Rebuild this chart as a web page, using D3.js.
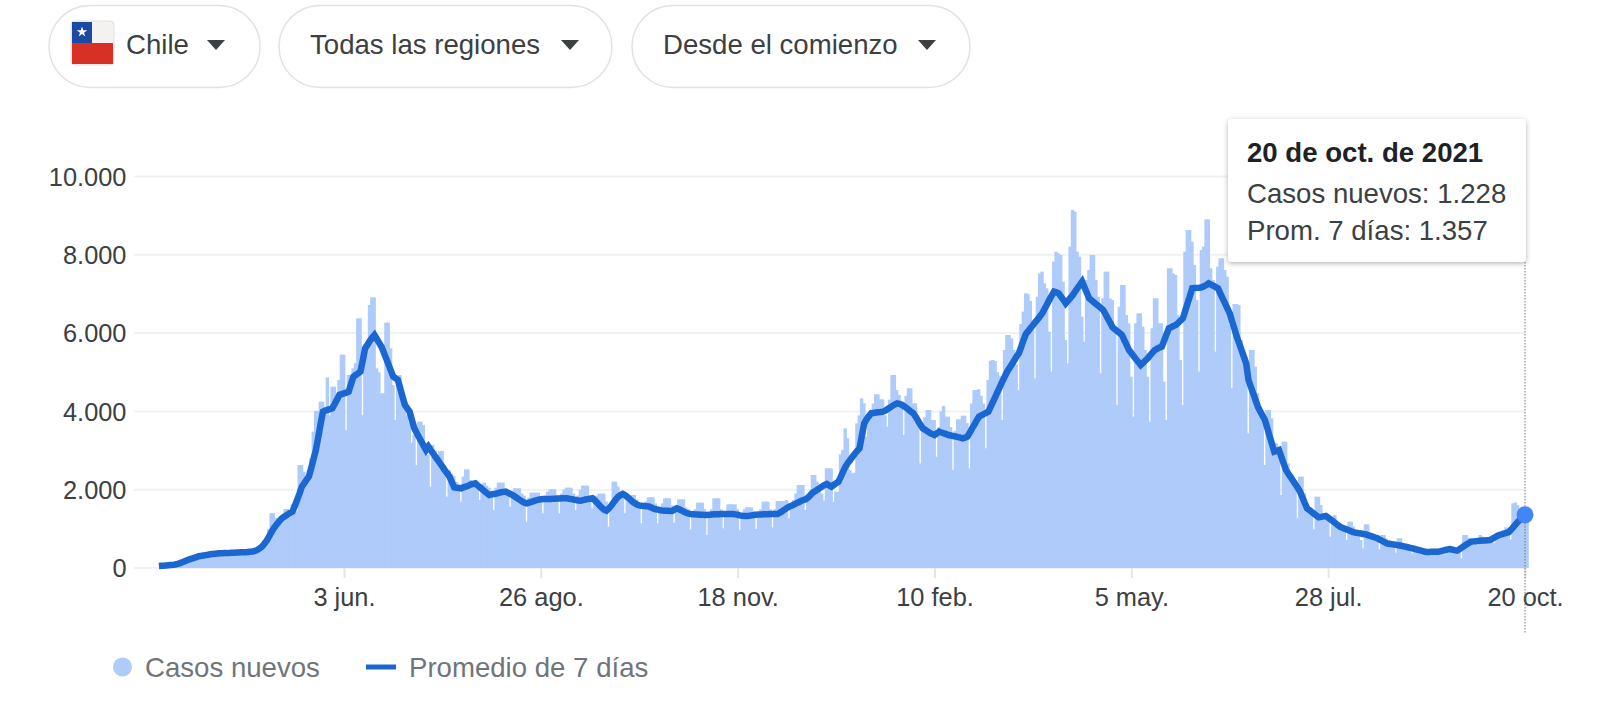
<!DOCTYPE html>
<html lang="es">
<head>
<meta charset="utf-8">
<script src="https://cdn.jsdelivr.net/npm/d3@7/dist/d3.min.js"></script>
<style>
html,body{margin:0;padding:0;background:#fff;overflow:hidden}
svg{display:block}
text{font-family:"Liberation Sans",Arial,sans-serif}
</style>
</head>
<body>
<svg id="chart" width="1600" height="705"></svg>
<script>
const startDay = "2020-03-16";
const yTicks = [0, 2000, 4000, 6000, 8000, 10000];
const yTickLabels = ["0", "2.000", "4.000", "6.000", "8.000", "10.000"];
const xTickDates = ["2020-06-03", "2020-08-26", "2020-11-18", "2021-02-10", "2021-05-05", "2021-07-28", "2021-10-20"];
const xTickLabels = ["3 jun.", "26 ago.", "18 nov.", "10 feb.", "5 may.", "28 jul.", "20 oct."];
const filters = ["Chile", "Todas las regiones", "Desde el comienzo"];
const legendLabels = ["Casos nuevos", "Promedio de 7 días"];
const tooltipLines = ["20 de oct. de 2021", "Casos nuevos: 1.228", "Prom. 7 días: 1.357"];

const newCases = [
40,60,
60,70,70,80,90,100,100,
90,110,130,150,180,200,220,
230,270,300,320,340,350,360,
330,400,440,460,430,390,380,
350,420,450,460,440,420,400,
380,430,460,450,470,480,500,
560,800,1000,1400,1400,1280,1200,
1183,1354,1507,1507,1439,1626,1430,
1450,2631,2631,2461,2205,2461,2800,
3482,4010,4010,4249,4249,4078,4870,
3900,4632,4632,4419,4802,5450,5450,
3525,4930,4930,5100,5228,6377,6377,
3908,5713,5713,6718,6913,6913,5100,
4998,4461,4461,6267,6267,5611,4674,
3780,4760,4930,4376,4100,3900,3700,
3200,3397,2631,3738,3738,3650,3200,
2900,2077,3140,3000,2900,2990,2990,
2631,1822,2500,2400,2350,2200,2150,
1694,2333,2520,2520,2248,2200,2205,
2200,1737,2150,2180,2100,2050,1950,
1481,2050,2180,2180,2180,2000,1950,
1567,1950,2035,2035,2035,1900,1850,
1184,1800,1924,1924,1924,1924,1800,
1396,1850,1950,2009,2009,2009,1850,
1396,1900,2000,2052,2052,2052,1900,
1481,1850,2000,2103,2103,2103,1850,
1524,1800,1850,1900,1900,1900,1700,
1056,1500,2205,2205,2077,1950,1900,
1400,1750,1865,1865,1865,1750,1650,
1141,1500,1700,1805,1805,1805,1650,
1141,1500,1650,1780,1780,1780,1600,
1158,1500,1754,1754,1754,1550,1500,
988,1400,1500,1669,1669,1669,1500,
843,1350,1500,1780,1780,1780,1500,
1013,1400,1626,1626,1626,1626,1500,
970,1400,1500,1550,1550,1550,1450,
996,1350,1500,1694,1694,1694,1500,
1039,1500,1711,1711,1711,1711,1737,
1269,1600,1737,1900,2120,2120,2120,
1481,1800,1950,2375,2375,2205,1950,
1900,1720,2546,2546,2546,1694,1950,
1950,2900,3014,3567,3312,2500,2418,
2435,3695,3900,4334,4206,3355,3800,
4036,4200,4436,4436,4308,4308,3900,
3610,4300,4930,4930,4546,4419,4200,
3397,4400,4589,4589,4206,4206,3900,
2673,3700,3850,4036,4036,3780,3780,
2844,3600,4000,4138,3865,3865,3600,
2503,3500,3797,3797,3891,3891,3700,
2546,4200,4546,4546,4564,4400,4200,
3057,4800,5296,5313,5287,5000,4900,
3780,5568,5951,5951,5866,5568,5200,
4546,6232,6548,7016,7000,6820,6200,
4845,6930,7527,7570,7270,7143,6037,
5015,7825,8080,8037,7995,7314,5824,
5228,8207,9144,9100,8080,7952,6420,
5781,7356,7612,7995,7995,7356,6930,
4972,6888,7570,7570,6888,6845,6164,
4163,6675,7228,7228,6462,6250,4887,
3865,6250,6505,6505,6164,5568,4887,
3738,6122,6888,6888,6250,6250,4760,
3780,7654,7654,7527,7484,6462,5313,
4163,8080,8633,8633,8335,7740,6845,
5015,8122,8207,8906,8906,7654,7356,
5525,7697,7910,7910,7612,7441,6207,
4589,6743,6743,6718,5824,5568,5398,
3440,5568,5568,5143,4461,4036,3951,
2631,4036,4036,3823,3184,3184,2929,
1865,3227,3227,2673,2418,2333,2077,
1269,2333,2333,1907,1652,1481,1396,
988,1822,1822,1609,1396,1311,1226,
800,1311,1354,1183,1056,1000,950,
715,1183,1183,1056,885,843,715,
502,1115,1115,885,843,758,720,
477,843,843,750,700,650,590,
392,758,758,640,600,560,520,
375,510,520,500,480,460,440,
332,400,430,430,420,410,400,
350,480,490,480,470,440,400,
247,843,843,770,720,700,680,
580,843,800,780,760,750,720,
640,820,850,900,970,1039,1000,
732,1652,1670,1610,1500,1400,1330,1228
];

const average7 = [
50,55,60,65,70,75,80,90,105,125,
150,175,200,220,240,260,275,300,310,320,
330,340,350,360,365,370,375,375,380,380,
385,390,390,395,395,400,400,405,410,415,
420,435,460,500,545,620,700,800,910,1013,
1090,1170,1240,1294,1330,1370,1410,1440,1580,1740,
1900,2077,2160,2250,2333,2550,2780,3014,3340,3670,
3993,4020,4040,4060,4078,4190,4300,4419,4440,4460,
4480,4504,4700,4887,4930,4970,5015,5300,5611,5700,
5800,5880,5951,5850,5750,5653,5500,5350,5200,5040,
4887,4850,4802,4590,4370,4163,4080,3993,3780,3567,
3450,3340,3230,3120,3014,3100,3010,2930,2840,2760,
2673,2590,2500,2420,2333,2200,2060,2050,2040,2035,
2060,2080,2100,2130,2150,2163,2110,2060,2010,1960,
1910,1865,1880,1890,1900,1920,1935,1945,1950,1920,
1890,1860,1820,1780,1740,1700,1670,1652,1670,1690,
1710,1730,1745,1754,1760,1760,1765,1765,1770,1770,
1775,1775,1780,1780,1780,1770,1760,1750,1735,1725,
1720,1735,1750,1760,1770,1780,1730,1670,1600,1540,
1490,1465,1520,1590,1670,1750,1820,1860,1890,1860,
1810,1760,1700,1660,1620,1600,1590,1585,1580,1570,
1550,1520,1500,1490,1475,1465,1460,1460,1458,1456,
1490,1524,1500,1470,1440,1410,1390,1380,1375,1370,
1365,1360,1358,1355,1354,1360,1365,1370,1372,1375,
1378,1380,1380,1382,1381,1380,1370,1360,1345,1335,
1330,1328,1335,1345,1355,1360,1365,1368,1371,1372,
1375,1378,1380,1380,1380,1410,1450,1490,1530,1567,
1590,1620,1650,1680,1710,1735,1754,1800,1860,1924,
1960,2000,2040,2080,2120,2146,2110,2077,2120,2165,
2205,2330,2460,2588,2680,2760,2840,2920,2990,3057,
3380,3695,3800,3880,3951,3960,3970,3980,3985,3993,
4020,4060,4100,4140,4175,4206,4195,4170,4130,4090,
4040,3990,3951,3860,3760,3660,3567,3530,3490,3450,
3420,3397,3440,3482,3460,3440,3420,3397,3385,3370,
3360,3345,3330,3312,3330,3355,3450,3560,3660,3770,
3865,3900,3930,3960,3993,4120,4250,4380,4510,4640,
4770,4890,5015,5110,5200,5300,5400,5483,5650,5820,
5977,6050,6130,6200,6280,6350,6430,6505,6620,6730,
6850,6960,7058,7040,7016,6930,6850,6760,6830,6900,
6973,7060,7150,7230,7314,7170,7030,6888,6840,6790,
6740,6690,6640,6590,6480,6370,6260,6147,6100,6050,
6000,5951,5820,5700,5568,5490,5410,5330,5260,5185,
5240,5300,5356,5430,5500,5568,5600,5630,5653,5810,
5970,6122,6150,6180,6207,6260,6320,6377,6570,6760,
6950,7143,7150,7155,7160,7169,7195,7230,7271,7240,
7210,7175,7143,7010,6880,6760,6630,6505,6300,6110,
5909,5740,5570,5400,5228,4802,4630,4460,4290,4121,
4000,3890,3780,3580,3370,3170,2971,2990,3014,2840,
2670,2503,2410,2320,2230,2140,2050,1950,1810,1660,
1524,1480,1430,1385,1340,1294,1305,1318,1328,1285,
1240,1195,1150,1100,1056,1030,1005,985,960,935,
911,900,890,880,870,860,840,820,800,780,
758,725,695,660,630,620,610,600,590,580,
570,555,545,530,515,500,485,470,455,440,
420,409,411,413,415,416,417,430,445,460,
475,485,470,455,443,480,520,560,600,640,
673,680,685,690,695,700,705,710,715,745,
780,815,843,860,875,895,911,975,1045,1115,
1183,1240,1300,1357
];

const parse = d3.utcParse("%Y-%m-%d");
const first = parse(startDay);
const dayOf = i => d3.utcDay.offset(first, i);
const svg = d3.select("#chart");

const x = d3.scaleUtc().domain([parse(xTickDates[0]), parse(xTickDates[6])]).range([344, 1525]);
const y = d3.scaleLinear().domain([0, 10000]).range([568, 176.5]);
const barW = x(dayOf(1)) - x(dayOf(0));

// filter pills
const pills = [[49, 211], [279, 333], [632, 338]];
const pillText = [126, 310, 663];
const pillArrow = [216, 570, 927];
const pillG = svg.append("g");
filters.forEach((label, i) => {
  pillG.append("rect").attr("x", pills[i][0]).attr("y", 5.5).attr("width", pills[i][1]).attr("height", 82)
    .attr("rx", 41).attr("fill", "#fff").attr("stroke", "#e0e2e4").attr("stroke-width", 1.5);
  pillG.append("text").attr("x", pillText[i]).attr("y", 54).attr("font-size", 27.6).attr("fill", "#3c4043").text(label);
  pillG.append("path").attr("d", `M${pillArrow[i]-9},40 h18 l-9,10 z`).attr("fill", "#3c4043");
});
// flag
const flag = pillG.append("g");
flag.append("rect").attr("x", 71).attr("y", 21).attr("width", 43).attr("height", 44).attr("rx", 4).attr("fill", "#f4f1f1").attr("stroke", "#e6dcdc");
flag.append("rect").attr("x", 72).attr("y", 43).attr("width", 41).attr("height", 21).attr("fill", "#d93025");
flag.append("rect").attr("x", 72).attr("y", 22).attr("width", 20).attr("height", 21).attr("fill", "#1c4aa0");
flag.append("path").attr("d", d3.symbol(d3.symbolStar, 34)()).attr("transform", "translate(82,32)").attr("fill", "#fff");

// grid
const grid = svg.append("g");
grid.selectAll("line").data(yTicks).join("line")
  .attr("x1", 134).attr("x2", 1525).attr("y1", d => y(d)).attr("y2", d => y(d))
  .attr("stroke", "#eff1f3").attr("stroke-width", 2);

// y axis
const yAxis = d3.axisLeft(y).tickValues(yTicks).tickSize(0).tickPadding(0)
  .tickFormat((d, i) => yTickLabels[i]);
const yG = svg.append("g").attr("transform", "translate(126.5,0.5)").call(yAxis);
yG.select(".domain").remove();
yG.selectAll("text").attr("font-size", 25.4).attr("fill", "#3c4043").style("font-family", '"Liberation Sans",Arial,sans-serif');

// x axis
const xAxis = d3.axisBottom(x).tickValues(xTickDates.map(parse)).tickSize(10).tickPadding(10)
  .tickFormat((d, i) => xTickLabels[i]);
const xG = svg.append("g").attr("transform", "translate(0,568)").call(xAxis);
xG.select(".domain").remove();
xG.selectAll("line").attr("stroke", "#e3e5e8").attr("stroke-width", 2);
xG.selectAll("text").attr("font-size", 25.4).attr("fill", "#3c4043").style("font-family", '"Liberation Sans",Arial,sans-serif');

// bars
svg.append("g").selectAll("rect").data(newCases).join("rect")
  .attr("x", (d, i) => x(dayOf(i)) + 0.4)
  .attr("width", barW + 1)
  .attr("y", d => y(d))
  .attr("height", d => y(0) - y(d))
  .attr("fill", "#aecbfa");

// average line
const line = d3.line().x((d, i) => x(dayOf(i))).y(d => y(d)).curve(d3.curveLinear);
svg.append("path").datum(average7).attr("d", line).attr("fill", "none")
  .attr("stroke", "#1a67d2").attr("stroke-width", 6.5).attr("stroke-linejoin", "miter");

// hover guide
const last = average7.length - 1;
svg.append("line").attr("x1", x(dayOf(last))).attr("x2", x(dayOf(last))).attr("y1", 262).attr("y2", 633)
  .attr("stroke", "#70757a").attr("stroke-width", 1).attr("stroke-dasharray", "1.5,1.5");
svg.append("circle").attr("cx", x(dayOf(last))).attr("cy", y(average7[last])).attr("r", 8.5).attr("fill", "#4285f4");

// tooltip
const defs = svg.append("defs");
const f = defs.append("filter").attr("id", "sh").attr("x", "-10%").attr("y", "-10%").attr("width", "120%").attr("height", "125%");
f.append("feDropShadow").attr("dx", 0).attr("dy", 1.5).attr("stdDeviation", 2.5).attr("flood-color", "#3c4043").attr("flood-opacity", 0.4);
const tip = svg.append("g");
tip.append("rect").attr("x", 1228).attr("y", 119).attr("width", 298).attr("height", 143).attr("rx", 4)
  .attr("fill", "#fff").attr("filter", "url(#sh)");
const tipY = [162, 203, 240];
tooltipLines.forEach((t, i) => {
  tip.append("text").attr("x", 1247).attr("y", tipY[i]).attr("font-size", 27.6)
    .attr("font-weight", i === 0 ? 700 : 400).attr("fill", i === 0 ? "#202124" : "#3c4043").text(t);
});

// legend
const lg = svg.append("g");
lg.append("circle").attr("cx", 122.5).attr("cy", 667).attr("r", 9.5).attr("fill", "#aecbfa");
lg.append("text").attr("x", 145).attr("y", 677).attr("font-size", 27.6).attr("fill", "#70757a").text(legendLabels[0]);
lg.append("line").attr("x1", 366).attr("x2", 396).attr("y1", 667).attr("y2", 667).attr("stroke", "#1a67d2").attr("stroke-width", 5);
lg.append("text").attr("x", 409).attr("y", 677).attr("font-size", 27.6).attr("fill", "#70757a").text(legendLabels[1]);
</script>
</body>
</html>
